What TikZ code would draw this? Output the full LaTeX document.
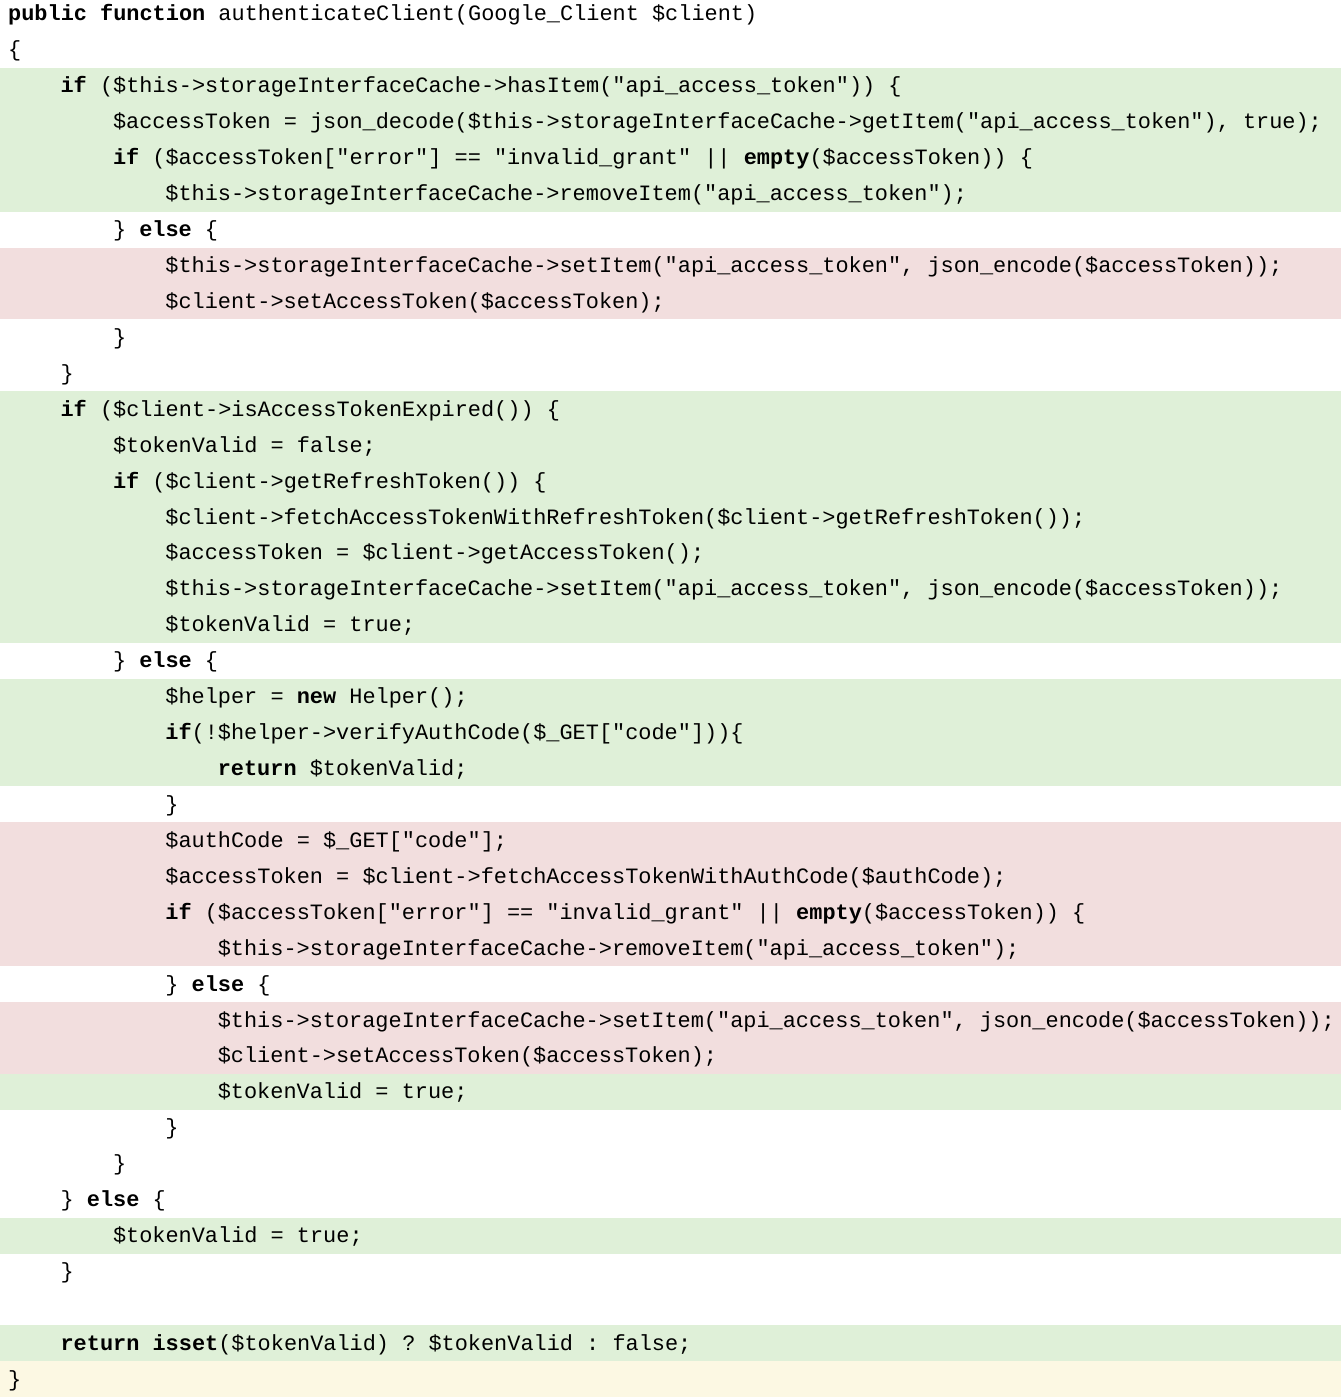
\documentclass[tikz,border=0pt]{standalone}
\usepackage{fontspec}
\setmonofont{Liberation Mono}
\definecolor{gbg}{HTML}{DFF0D8}
\definecolor{pbg}{HTML}{F2DEDE}
\definecolor{ybg}{HTML}{FCF8E3}
\tikzset{code/.style={anchor=base west,inner sep=0pt,font=\ttfamily\fontsize{21.9}{26}\selectfont}}
\newcommand{\Ln}[4]{\node[code] (#1) at ({(8+13.1*#3)*1pt},{-(21+35.93*(#2-1))*1pt}) {#4};}
\newcommand{\Bg}[3]{\fill[#3] (0pt,{-(35.93*(#1-1)-4)*1pt}) rectangle (1341pt,{-(35.93*#2-4)*1pt});}
\begin{document}
\begin{tikzpicture}[x=1pt,y=1pt]
\useasboundingbox (0,0) rectangle (1341,-1397);
\Bg{3}{6}{gbg}
\Bg{8}{9}{pbg}
\Bg{12}{18}{gbg}
\Bg{20}{22}{gbg}
\Bg{24}{27}{pbg}
\Bg{29}{30}{pbg}
\Bg{31}{31}{gbg}
\Bg{35}{35}{gbg}
\Bg{38}{38}{gbg}
\fill[ybg] (0,{-(35.93*38-4)}) rectangle (1341,-1397);
\Ln{a1}{1}{0}{\textbf{public function} authenticateClient(Google\_Client \$client)}
\Ln{a2}{2}{0}{\{}
\Ln{a3}{3}{4}{\textbf{if} (\$this->storageInterfaceCache->hasItem("api\_access\_token")) \{}
\Ln{a4}{4}{8}{\$accessToken = json\_decode(\$this->storageInterfaceCache->getItem("api\_access\_token"), true);}
\Ln{a5}{5}{8}{\textbf{if} (\$accessToken["error"] == "invalid\_grant" || \textbf{empty}(\$accessToken)) \{}
\Ln{a6}{6}{12}{\$this->storageInterfaceCache->removeItem("api\_access\_token");}
\Ln{a7}{7}{8}{\} \textbf{else} \{}
\Ln{a8}{8}{12}{\$this->storageInterfaceCache->setItem("api\_access\_token", json\_encode(\$accessToken));}
\Ln{a9}{9}{12}{\$client->setAccessToken(\$accessToken);}
\Ln{a10}{10}{8}{\}}
\Ln{a11}{11}{4}{\}}
\Ln{a12}{12}{4}{\textbf{if} (\$client->isAccessTokenExpired()) \{}
\Ln{a13}{13}{8}{\$tokenValid = false;}
\Ln{a14}{14}{8}{\textbf{if} (\$client->getRefreshToken()) \{}
\Ln{a15}{15}{12}{\$client->fetchAccessTokenWithRefreshToken(\$client->getRefreshToken());}
\Ln{a16}{16}{12}{\$accessToken = \$client->getAccessToken();}
\Ln{a17}{17}{12}{\$this->storageInterfaceCache->setItem("api\_access\_token", json\_encode(\$accessToken));}
\Ln{a18}{18}{12}{\$tokenValid = true;}
\Ln{a19}{19}{8}{\} \textbf{else} \{}
\Ln{a20}{20}{12}{\$helper = \textbf{new} Helper();}
\Ln{a21}{21}{12}{\textbf{if}(!\$helper->verifyAuthCode(\$\_GET["code"]))\{}
\Ln{a22}{22}{16}{\textbf{return} \$tokenValid;}
\Ln{a23}{23}{12}{\}}
\Ln{a24}{24}{12}{\$authCode = \$\_GET["code"];}
\Ln{a25}{25}{12}{\$accessToken = \$client->fetchAccessTokenWithAuthCode(\$authCode);}
\Ln{a26}{26}{12}{\textbf{if} (\$accessToken["error"] == "invalid\_grant" || \textbf{empty}(\$accessToken)) \{}
\Ln{a27}{27}{16}{\$this->storageInterfaceCache->removeItem("api\_access\_token");}
\Ln{a28}{28}{12}{\} \textbf{else} \{}
\Ln{a29}{29}{16}{\$this->storageInterfaceCache->setItem("api\_access\_token", json\_encode(\$accessToken));}
\Ln{a30}{30}{16}{\$client->setAccessToken(\$accessToken);}
\Ln{a31}{31}{16}{\$tokenValid = true;}
\Ln{a32}{32}{12}{\}}
\Ln{a33}{33}{8}{\}}
\Ln{a34}{34}{4}{\} \textbf{else} \{}
\Ln{a35}{35}{8}{\$tokenValid = true;}
\Ln{a36}{36}{4}{\}}
\Ln{a38}{38}{4}{\textbf{return} \textbf{isset}(\$tokenValid) ? \$tokenValid : false;}
\Ln{a39}{39}{0}{\}}
\end{tikzpicture}
\end{document}
